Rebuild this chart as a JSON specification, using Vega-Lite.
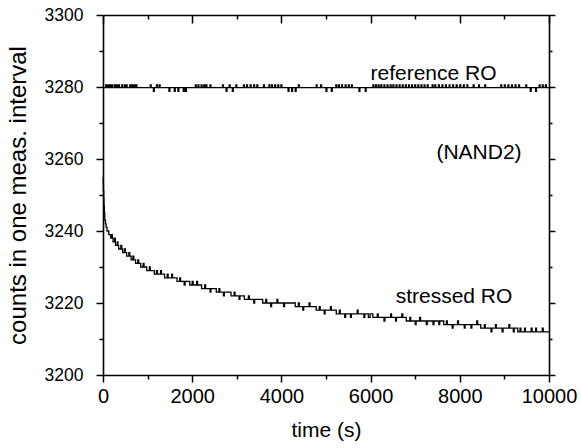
{
  "$schema": "https://vega.github.io/schema/vega-lite/v6.json",
  "width": 446,
  "height": 360,
  "autosize": {"type": "none"},
  "padding": {"left": 103, "top": 15, "right": 32, "bottom": 73},
  "background": "white",
  "config": {
    "view": {"stroke": null},
    "font": "Liberation Sans",
    "axis": {
      "domainColor": "black", "tickColor": "black", "labelColor": "black", "titleColor": "black",
      "labelFont": "Liberation Sans", "titleFont": "Liberation Sans", "titleFontWeight": "normal",
      "grid": false, "domainWidth": 1.6, "tickWidth": 1.5, "labelFlush": false, "labelOverlap": false, "labelBound": false
    }
  },
  "datasets": {
    "series": [
      {"s":"stressed","t":0,"v":3255},{"s":"stressed","t":5,"v":3253},{"s":"stressed","t":10,"v":3251},{"s":"stressed","t":16,"v":3249},{"s":"stressed","t":22,"v":3247},{"s":"stressed","t":30,"v":3245},{"s":"stressed","t":40,"v":3243},{"s":"stressed","t":55,"v":3242},{"s":"stressed","t":70,"v":3241},{"s":"stressed","t":90,"v":3240},{"s":"stressed","t":130,"v":3239},{"s":"stressed","t":175,"v":3238},{"s":"stressed","t":195,"v":3239},{"s":"stressed","t":210,"v":3238},{"s":"stressed","t":225,"v":3237},{"s":"stressed","t":260,"v":3238},{"s":"stressed","t":275,"v":3237},{"s":"stressed","t":280,"v":3236},{"s":"stressed","t":320,"v":3237},{"s":"stressed","t":335,"v":3236},{"s":"stressed","t":350,"v":3235},{"s":"stressed","t":400,"v":3236},{"s":"stressed","t":420,"v":3235},{"s":"stressed","t":440,"v":3234},{"s":"stressed","t":480,"v":3235},{"s":"stressed","t":500,"v":3234},{"s":"stressed","t":530,"v":3233},{"s":"stressed","t":580,"v":3234},{"s":"stressed","t":600,"v":3233},{"s":"stressed","t":630,"v":3232},{"s":"stressed","t":670,"v":3233},{"s":"stressed","t":690,"v":3232},{"s":"stressed","t":730,"v":3231},{"s":"stressed","t":780,"v":3232},{"s":"stressed","t":800,"v":3231},{"s":"stressed","t":845,"v":3230},{"s":"stressed","t":900,"v":3231},{"s":"stressed","t":920,"v":3230},{"s":"stressed","t":980,"v":3229},{"s":"stressed","t":1040,"v":3230},{"s":"stressed","t":1060,"v":3229},{"s":"stressed","t":1150,"v":3228},{"s":"stressed","t":1200,"v":3229},{"s":"stressed","t":1220,"v":3228},{"s":"stressed","t":1290,"v":3229},{"s":"stressed","t":1310,"v":3228},{"s":"stressed","t":1380,"v":3227},{"s":"stressed","t":1440,"v":3228},{"s":"stressed","t":1460,"v":3227},{"s":"stressed","t":1540,"v":3228},{"s":"stressed","t":1560,"v":3227},{"s":"stressed","t":1660,"v":3226},{"s":"stressed","t":1720,"v":3227},{"s":"stressed","t":1740,"v":3226},{"s":"stressed","t":1820,"v":3225},{"s":"stressed","t":1840,"v":3226},{"s":"stressed","t":1946,"v":3225},{"s":"stressed","t":2000,"v":3226},{"s":"stressed","t":2020,"v":3225},{"s":"stressed","t":2100,"v":3226},{"s":"stressed","t":2120,"v":3225},{"s":"stressed","t":2210,"v":3224},{"s":"stressed","t":2280,"v":3225},{"s":"stressed","t":2300,"v":3224},{"s":"stressed","t":2400,"v":3223},{"s":"stressed","t":2420,"v":3224},{"s":"stressed","t":2540,"v":3223},{"s":"stressed","t":2600,"v":3224},{"s":"stressed","t":2620,"v":3223},{"s":"stressed","t":2700,"v":3222},{"s":"stressed","t":2720,"v":3223},{"s":"stressed","t":2870,"v":3222},{"s":"stressed","t":2940,"v":3223},{"s":"stressed","t":2960,"v":3222},{"s":"stressed","t":3050,"v":3221},{"s":"stressed","t":3070,"v":3222},{"s":"stressed","t":3170,"v":3221},{"s":"stressed","t":3260,"v":3222},{"s":"stressed","t":3280,"v":3221},{"s":"stressed","t":3380,"v":3220},{"s":"stressed","t":3400,"v":3221},{"s":"stressed","t":3580,"v":3220},{"s":"stressed","t":3650,"v":3221},{"s":"stressed","t":3670,"v":3220},{"s":"stressed","t":3760,"v":3219},{"s":"stressed","t":3780,"v":3220},{"s":"stressed","t":3900,"v":3221},{"s":"stressed","t":3920,"v":3220},{"s":"stressed","t":4050,"v":3219},{"s":"stressed","t":4070,"v":3220},{"s":"stressed","t":4310,"v":3219},{"s":"stressed","t":4380,"v":3220},{"s":"stressed","t":4400,"v":3219},{"s":"stressed","t":4480,"v":3218},{"s":"stressed","t":4500,"v":3219},{"s":"stressed","t":4620,"v":3220},{"s":"stressed","t":4640,"v":3219},{"s":"stressed","t":4780,"v":3218},{"s":"stressed","t":4850,"v":3219},{"s":"stressed","t":4870,"v":3218},{"s":"stressed","t":4960,"v":3217},{"s":"stressed","t":4980,"v":3218},{"s":"stressed","t":5100,"v":3219},{"s":"stressed","t":5120,"v":3218},{"s":"stressed","t":5230,"v":3217},{"s":"stressed","t":5300,"v":3218},{"s":"stressed","t":5320,"v":3217},{"s":"stressed","t":5420,"v":3216},{"s":"stressed","t":5440,"v":3217},{"s":"stressed","t":5550,"v":3216},{"s":"stressed","t":5570,"v":3217},{"s":"stressed","t":5700,"v":3218},{"s":"stressed","t":5720,"v":3217},{"s":"stressed","t":5850,"v":3216},{"s":"stressed","t":5870,"v":3217},{"s":"stressed","t":5950,"v":3216},{"s":"stressed","t":5990,"v":3217},{"s":"stressed","t":6050,"v":3216},{"s":"stressed","t":6150,"v":3217},{"s":"stressed","t":6170,"v":3216},{"s":"stressed","t":6300,"v":3215},{"s":"stressed","t":6320,"v":3216},{"s":"stressed","t":6450,"v":3217},{"s":"stressed","t":6470,"v":3216},{"s":"stressed","t":6560,"v":3215},{"s":"stressed","t":6580,"v":3216},{"s":"stressed","t":6700,"v":3217},{"s":"stressed","t":6720,"v":3216},{"s":"stressed","t":6800,"v":3215},{"s":"stressed","t":6880,"v":3216},{"s":"stressed","t":6900,"v":3215},{"s":"stressed","t":7000,"v":3214},{"s":"stressed","t":7020,"v":3215},{"s":"stressed","t":7100,"v":3216},{"s":"stressed","t":7120,"v":3215},{"s":"stressed","t":7250,"v":3214},{"s":"stressed","t":7270,"v":3215},{"s":"stressed","t":7400,"v":3214},{"s":"stressed","t":7420,"v":3215},{"s":"stressed","t":7530,"v":3214},{"s":"stressed","t":7550,"v":3215},{"s":"stressed","t":7640,"v":3214},{"s":"stressed","t":7700,"v":3215},{"s":"stressed","t":7720,"v":3214},{"s":"stressed","t":7830,"v":3213},{"s":"stressed","t":7850,"v":3214},{"s":"stressed","t":7950,"v":3215},{"s":"stressed","t":7970,"v":3214},{"s":"stressed","t":8100,"v":3213},{"s":"stressed","t":8120,"v":3214},{"s":"stressed","t":8250,"v":3213},{"s":"stressed","t":8270,"v":3214},{"s":"stressed","t":8380,"v":3215},{"s":"stressed","t":8400,"v":3214},{"s":"stressed","t":8470,"v":3213},{"s":"stressed","t":8550,"v":3214},{"s":"stressed","t":8570,"v":3213},{"s":"stressed","t":8700,"v":3212},{"s":"stressed","t":8720,"v":3213},{"s":"stressed","t":8800,"v":3214},{"s":"stressed","t":8820,"v":3213},{"s":"stressed","t":8950,"v":3212},{"s":"stressed","t":8970,"v":3213},{"s":"stressed","t":9100,"v":3214},{"s":"stressed","t":9120,"v":3213},{"s":"stressed","t":9200,"v":3212},{"s":"stressed","t":9220,"v":3213},{"s":"stressed","t":9300,"v":3212},{"s":"stressed","t":9350,"v":3213},{"s":"stressed","t":9370,"v":3212},{"s":"stressed","t":9450,"v":3213},{"s":"stressed","t":9470,"v":3212},{"s":"stressed","t":9600,"v":3213},{"s":"stressed","t":9620,"v":3212},{"s":"stressed","t":9700,"v":3213},{"s":"stressed","t":9720,"v":3212},{"s":"stressed","t":9850,"v":3213},{"s":"stressed","t":9870,"v":3212},{"s":"stressed","t":10000,"v":3212},
      {"s":"ref","t":0,"v":3279.8},
      {"s":"ref","t":60,"v":3280.6},{"s":"ref","t":80,"v":3279.8},{"s":"ref","t":110,"v":3280.6},{"s":"ref","t":130,"v":3279.8},{"s":"ref","t":160,"v":3280.6},{"s":"ref","t":180,"v":3279.8},{"s":"ref","t":200,"v":3280.6},{"s":"ref","t":220,"v":3279.8},{"s":"ref","t":260,"v":3280.6},{"s":"ref","t":280,"v":3279.8},{"s":"ref","t":300,"v":3280.6},{"s":"ref","t":320,"v":3279.8},{"s":"ref","t":350,"v":3280.6},{"s":"ref","t":370,"v":3279.8},{"s":"ref","t":420,"v":3280.6},{"s":"ref","t":440,"v":3279.8},{"s":"ref","t":480,"v":3280.6},{"s":"ref","t":500,"v":3279.8},{"s":"ref","t":520,"v":3280.6},{"s":"ref","t":540,"v":3279.8},{"s":"ref","t":600,"v":3280.6},{"s":"ref","t":620,"v":3279.8},{"s":"ref","t":650,"v":3280.6},{"s":"ref","t":670,"v":3279.8},{"s":"ref","t":700,"v":3280.6},{"s":"ref","t":720,"v":3279.8},{"s":"ref","t":740,"v":3280.6},{"s":"ref","t":760,"v":3279.8},
      {"s":"ref","t":1060,"v":3280.6},{"s":"ref","t":1080,"v":3279.8},{"s":"ref","t":1130,"v":3278.8},{"s":"ref","t":1150,"v":3279.8},{"s":"ref","t":1200,"v":3280.6},{"s":"ref","t":1220,"v":3279.8},{"s":"ref","t":1260,"v":3280.6},{"s":"ref","t":1280,"v":3279.8},
      {"s":"ref","t":1480,"v":3278.8},{"s":"ref","t":1500,"v":3279.8},{"s":"ref","t":1600,"v":3278.8},{"s":"ref","t":1620,"v":3279.8},{"s":"ref","t":1680,"v":3278.8},{"s":"ref","t":1700,"v":3279.8},{"s":"ref","t":1800,"v":3278.8},{"s":"ref","t":1820,"v":3279.8},{"s":"ref","t":1850,"v":3278.8},{"s":"ref","t":1870,"v":3279.8},
      {"s":"ref","t":2070,"v":3280.6},{"s":"ref","t":2090,"v":3279.8},{"s":"ref","t":2130,"v":3280.6},{"s":"ref","t":2150,"v":3279.8},{"s":"ref","t":2200,"v":3280.6},{"s":"ref","t":2220,"v":3279.8},{"s":"ref","t":2260,"v":3280.6},{"s":"ref","t":2280,"v":3279.8},{"s":"ref","t":2310,"v":3280.6},{"s":"ref","t":2330,"v":3279.8},{"s":"ref","t":2400,"v":3280.6},{"s":"ref","t":2420,"v":3279.8},
      {"s":"ref","t":2680,"v":3280.6},{"s":"ref","t":2700,"v":3279.8},{"s":"ref","t":2760,"v":3278.8},{"s":"ref","t":2780,"v":3279.8},{"s":"ref","t":2830,"v":3280.6},{"s":"ref","t":2850,"v":3279.8},{"s":"ref","t":2900,"v":3278.8},{"s":"ref","t":2920,"v":3279.8},{"s":"ref","t":2980,"v":3280.6},{"s":"ref","t":3000,"v":3279.8},
      {"s":"ref","t":3150,"v":3280.6},{"s":"ref","t":3170,"v":3279.8},{"s":"ref","t":3220,"v":3280.6},{"s":"ref","t":3240,"v":3279.8},{"s":"ref","t":3300,"v":3280.6},{"s":"ref","t":3320,"v":3279.8},{"s":"ref","t":3380,"v":3280.6},{"s":"ref","t":3400,"v":3279.8},{"s":"ref","t":3450,"v":3280.6},{"s":"ref","t":3470,"v":3279.8},{"s":"ref","t":3600,"v":3280.6},{"s":"ref","t":3620,"v":3279.8},{"s":"ref","t":3720,"v":3280.6},{"s":"ref","t":3740,"v":3279.8},{"s":"ref","t":3780,"v":3280.6},{"s":"ref","t":3800,"v":3279.8},{"s":"ref","t":3850,"v":3280.6},{"s":"ref","t":3870,"v":3279.8},{"s":"ref","t":3920,"v":3280.6},{"s":"ref","t":3940,"v":3279.8},{"s":"ref","t":3990,"v":3280.6},{"s":"ref","t":4010,"v":3279.8},
      {"s":"ref","t":4150,"v":3278.8},{"s":"ref","t":4170,"v":3279.8},{"s":"ref","t":4230,"v":3278.8},{"s":"ref","t":4250,"v":3279.8},{"s":"ref","t":4310,"v":3278.8},{"s":"ref","t":4330,"v":3279.8},{"s":"ref","t":4380,"v":3280.6},{"s":"ref","t":4400,"v":3279.8},
      {"s":"ref","t":4780,"v":3280.6},{"s":"ref","t":4800,"v":3279.8},{"s":"ref","t":4880,"v":3280.6},{"s":"ref","t":4900,"v":3279.8},{"s":"ref","t":5000,"v":3278.8},{"s":"ref","t":5020,"v":3279.8},{"s":"ref","t":5120,"v":3278.8},{"s":"ref","t":5140,"v":3279.8},
      {"s":"ref","t":5220,"v":3280.6},{"s":"ref","t":5240,"v":3279.8},{"s":"ref","t":5280,"v":3280.6},{"s":"ref","t":5300,"v":3279.8},{"s":"ref","t":5350,"v":3280.6},{"s":"ref","t":5370,"v":3279.8},{"s":"ref","t":5430,"v":3280.6},{"s":"ref","t":5450,"v":3279.8},{"s":"ref","t":5500,"v":3280.6},{"s":"ref","t":5520,"v":3279.8},{"s":"ref","t":5570,"v":3280.6},{"s":"ref","t":5590,"v":3279.8},
      {"s":"ref","t":5740,"v":3278.8},{"s":"ref","t":5760,"v":3279.8},{"s":"ref","t":5880,"v":3278.8},{"s":"ref","t":5900,"v":3279.8},
      {"s":"ref","t":6050,"v":3280.6},{"s":"ref","t":6070,"v":3279.8},{"s":"ref","t":6110,"v":3280.6},{"s":"ref","t":6130,"v":3279.8},{"s":"ref","t":6170,"v":3280.6},{"s":"ref","t":6190,"v":3279.8},{"s":"ref","t":6230,"v":3280.6},{"s":"ref","t":6250,"v":3279.8},{"s":"ref","t":6300,"v":3280.6},{"s":"ref","t":6320,"v":3279.8},{"s":"ref","t":6370,"v":3280.6},{"s":"ref","t":6390,"v":3279.8},{"s":"ref","t":6440,"v":3280.6},{"s":"ref","t":6460,"v":3279.8},{"s":"ref","t":6500,"v":3280.6},{"s":"ref","t":6520,"v":3279.8},{"s":"ref","t":6570,"v":3280.6},{"s":"ref","t":6590,"v":3279.8},{"s":"ref","t":6640,"v":3280.6},{"s":"ref","t":6660,"v":3279.8},{"s":"ref","t":6710,"v":3280.6},{"s":"ref","t":6730,"v":3279.8},{"s":"ref","t":6780,"v":3280.6},{"s":"ref","t":6800,"v":3279.8},{"s":"ref","t":6850,"v":3280.6},{"s":"ref","t":6870,"v":3279.8},{"s":"ref","t":6920,"v":3280.6},{"s":"ref","t":6940,"v":3279.8},{"s":"ref","t":6990,"v":3280.6},{"s":"ref","t":7010,"v":3279.8},{"s":"ref","t":7060,"v":3280.6},{"s":"ref","t":7080,"v":3279.8},{"s":"ref","t":7130,"v":3280.6},{"s":"ref","t":7150,"v":3279.8},{"s":"ref","t":7200,"v":3280.6},{"s":"ref","t":7220,"v":3279.8},{"s":"ref","t":7270,"v":3280.6},{"s":"ref","t":7290,"v":3279.8},
      {"s":"ref","t":7380,"v":3280.6},{"s":"ref","t":7400,"v":3279.8},{"s":"ref","t":7440,"v":3280.6},{"s":"ref","t":7460,"v":3279.8},{"s":"ref","t":7520,"v":3280.6},{"s":"ref","t":7540,"v":3279.8},{"s":"ref","t":7600,"v":3280.6},{"s":"ref","t":7620,"v":3279.8},{"s":"ref","t":7680,"v":3280.6},{"s":"ref","t":7700,"v":3279.8},{"s":"ref","t":7760,"v":3280.6},{"s":"ref","t":7780,"v":3279.8},{"s":"ref","t":7840,"v":3280.6},{"s":"ref","t":7860,"v":3279.8},{"s":"ref","t":7920,"v":3280.6},{"s":"ref","t":7940,"v":3279.8},{"s":"ref","t":8000,"v":3280.6},{"s":"ref","t":8020,"v":3279.8},{"s":"ref","t":8080,"v":3280.6},{"s":"ref","t":8100,"v":3279.8},{"s":"ref","t":8160,"v":3280.6},{"s":"ref","t":8180,"v":3279.8},
      {"s":"ref","t":8300,"v":3280.6},{"s":"ref","t":8320,"v":3279.8},{"s":"ref","t":8420,"v":3280.6},{"s":"ref","t":8440,"v":3279.8},{"s":"ref","t":8560,"v":3280.6},{"s":"ref","t":8580,"v":3279.8},
      {"s":"ref","t":8920,"v":3280.6},{"s":"ref","t":8940,"v":3279.8},{"s":"ref","t":9000,"v":3280.6},{"s":"ref","t":9020,"v":3279.8},{"s":"ref","t":9080,"v":3280.6},{"s":"ref","t":9100,"v":3279.8},{"s":"ref","t":9160,"v":3280.6},{"s":"ref","t":9180,"v":3279.8},{"s":"ref","t":9240,"v":3280.6},{"s":"ref","t":9260,"v":3279.8},{"s":"ref","t":9320,"v":3280.6},{"s":"ref","t":9340,"v":3279.8},
      {"s":"ref","t":9480,"v":3280.6},{"s":"ref","t":9500,"v":3279.8},{"s":"ref","t":9580,"v":3278.8},{"s":"ref","t":9600,"v":3279.8},{"s":"ref","t":9700,"v":3278.8},{"s":"ref","t":9720,"v":3279.8},{"s":"ref","t":9780,"v":3280.6},{"s":"ref","t":9800,"v":3279.8},{"s":"ref","t":9850,"v":3280.6},{"s":"ref","t":9870,"v":3279.8},{"s":"ref","t":9920,"v":3280.6},{"s":"ref","t":9940,"v":3279.8},{"s":"ref","t":10000,"v":3279.8}
    ],
    "labels": [
      {"label": "reference RO", "t": 7410, "v": 3281.9},
      {"label": "(NAND2)", "t": 8430, "v": 3259.9},
      {"label": "stressed RO", "t": 7870, "v": 3219.9}
    ]
  },
  "layer": [
    {
      "data": {"name": "series"},
      "mark": {"type": "line", "interpolate": "step-after", "color": "black", "strokeWidth": 1.3},
      "encoding": {
        "x": {
          "field": "t", "type": "quantitative",
          "scale": {"domain": [0, 10000], "nice": false, "zero": false},
          "axis": {
            "orient": "bottom", "title": "time (s)", "format": "d",
            "values": [0, 1000, 2000, 3000, 4000, 5000, 6000, 7000, 8000, 9000, 10000],
            "labelExpr": "datum.value % 2000 === 0 ? datum.label : ''",
            "tickSize": {"condition": {"test": "datum.value % 2000 === 0", "value": 7}, "value": 4},
            "labelFontSize": 20, "titleFontSize": 21, "labelPadding": 4, "titlePadding": 13
          }
        },
        "y": {
          "field": "v", "type": "quantitative",
          "scale": {"domain": [3200, 3300], "nice": false, "zero": false},
          "axis": {
            "orient": "left", "title": "counts in one meas. interval", "format": "d",
            "values": [3200, 3210, 3220, 3230, 3240, 3250, 3260, 3270, 3280, 3290, 3300],
            "labelExpr": "datum.value % 20 === 0 ? datum.label : ''",
            "tickSize": {"condition": {"test": "datum.value % 20 === 0", "value": 7}, "value": 4},
            "labelFontSize": 17.5, "titleFontSize": 24, "labelPadding": 13, "titlePadding": 14
          }
        },
        "detail": {"field": "s", "type": "nominal"}
      }
    },
    {
      "data": {"name": "series"},
      "mark": {"type": "line", "interpolate": "step-after", "opacity": 0},
      "encoding": {
        "x": {
          "field": "t", "type": "quantitative",
          "axis": {
            "orient": "top", "title": null, "labels": false,
            "values": [0, 1000, 2000, 3000, 4000, 5000, 6000, 7000, 8000, 9000, 10000],
            "tickSize": {"condition": {"test": "datum.value % 2000 === 0", "value": -8}, "value": -4}
          }
        },
        "y": {
          "field": "v", "type": "quantitative",
          "axis": {
            "orient": "right", "title": null, "labels": false,
            "values": [3200, 3210, 3220, 3230, 3240, 3250, 3260, 3270, 3280, 3290, 3300],
            "tickSize": {"condition": {"test": "datum.value % 20 === 0", "value": 6}, "value": 3}
          }
        },
        "detail": {"field": "s", "type": "nominal"}
      }
    },
    {
      "data": {"name": "labels"},
      "mark": {"type": "text", "align": "center", "baseline": "alphabetic", "font": "Liberation Sans", "fontSize": 21, "color": "black"},
      "encoding": {
        "x": {"field": "t", "type": "quantitative", "axis": null},
        "y": {"field": "v", "type": "quantitative", "axis": null},
        "text": {"field": "label", "type": "nominal"}
      }
    }
  ],
  "resolve": {"axis": {"x": "independent", "y": "independent"}}
}
